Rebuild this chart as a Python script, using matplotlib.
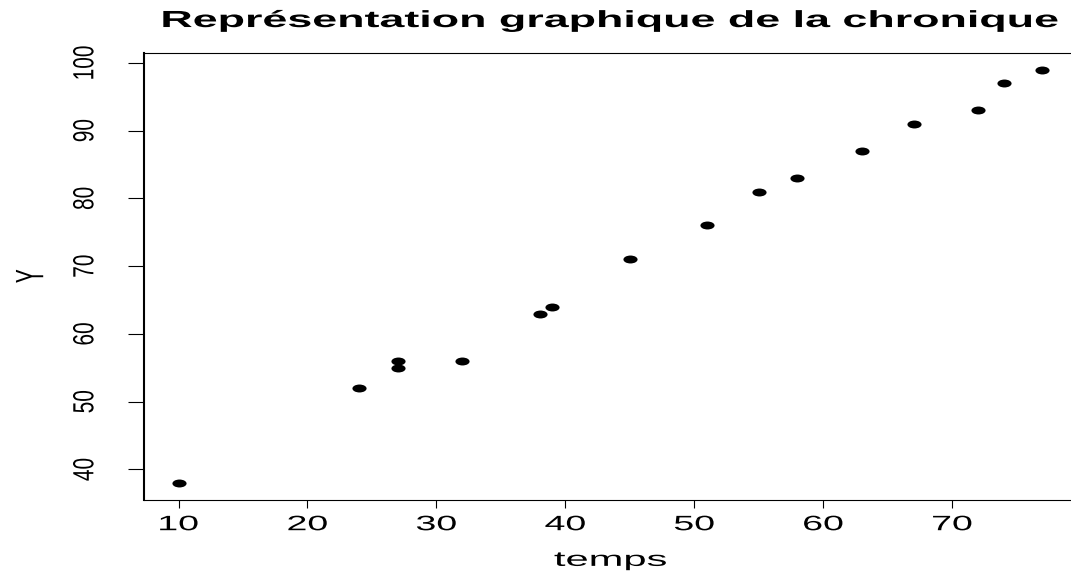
import matplotlib
matplotlib.use("Agg")
import matplotlib.pyplot as plt
import numpy as np
from matplotlib.path import Path
from matplotlib.transforms import Affine2D
from matplotlib.patheffects import AbstractPathEffect

# data
temps = [10, 24, 27, 27, 32, 38, 39, 45, 51, 55, 58, 63, 67, 72, 74, 77]
Y = [38, 52, 56, 55, 56, 63, 64, 71, 76, 81, 83, 87, 91, 93, 97, 99]
xticks = [10, 20, 30, 40, 50, 60, 70]
yticks = [40, 50, 60, 70, 80, 90, 100]


class Stretch(AbstractPathEffect):
    """widen the glyphs around their own centre (the original image was stretched)"""
    def __init__(self, sx=1.0, sy=1.0):
        super().__init__()
        self.sx, self.sy = sx, sy

    def draw_path(self, renderer, gc, tpath, affine, rgbFace=None):
        ext = tpath.get_extents()
        cx, cy = (ext.x0 + ext.x1) / 2, (ext.y0 + ext.y1) / 2
        t = Affine2D().translate(-cx, -cy).scale(self.sx, self.sy).translate(cx, cy) + affine
        renderer.draw_path(gc, tpath, t, rgbFace)


plt.rcParams['font.family'] = ['Liberation Sans', 'DejaVu Sans']

# flattened disc, like R's pch=19 after the horizontal stretch
circ = Path.unit_circle()
ellipse = Path(circ.vertices * np.array([1.0, 0.56]), circ.codes)

fig = plt.figure(figsize=(10.71, 5.76), dpi=100)
ax = fig.add_axes([144 / 1071, 76.5 / 576, 933 / 1071, 446.5 / 576])

ax.plot(temps, Y, linestyle='none', marker=ellipse, markersize=10.2,
        color='black', markeredgewidth=0)

# R style 4% padding
ax.set_xlim(10 - 0.04 * 67, 77 + 0.04 * 67)
ax.set_ylim(38 - 0.04 * 61, 99 + 0.04 * 61)

ax.set_xticks(xticks)
ax.set_yticks(yticks)
ax.tick_params(axis='x', length=5.8, width=0.8, pad=5.5, labelsize=15)
ax.tick_params(axis='y', length=11.5, width=0.8, labelsize=15, labelrotation=90)
for lab in ax.get_xticklabels():
    lab.set_path_effects([Stretch(sx=1.8)])
for lab in ax.get_yticklabels():
    lab.set_path_effects([Stretch(sy=1.4)])
    lab.set_verticalalignment('center')
    lab.set_horizontalalignment('center')
ax.tick_params(axis='y', pad=31)

ax.spines['right'].set_visible(False)
ax.spines['left'].set_linewidth(1.5)
ax.spines['bottom'].set_linewidth(0.8)
ax.spines['top'].set_linewidth(0.8)

xl = ax.set_xlabel('temps', fontsize=15, labelpad=12)
xl.set_path_effects([Stretch(sx=2.0)])
yl = ax.set_ylabel('Y', fontsize=15, labelpad=25)
yl.set_path_effects([Stretch(sy=1.9)])
tt = ax.set_title('Représentation graphique de la chronique', fontsize=16.8,
                  fontweight='bold', pad=18.7)
tt.set_path_effects([Stretch(sx=1.92)])

fig.savefig('out.png', dpi=100)
